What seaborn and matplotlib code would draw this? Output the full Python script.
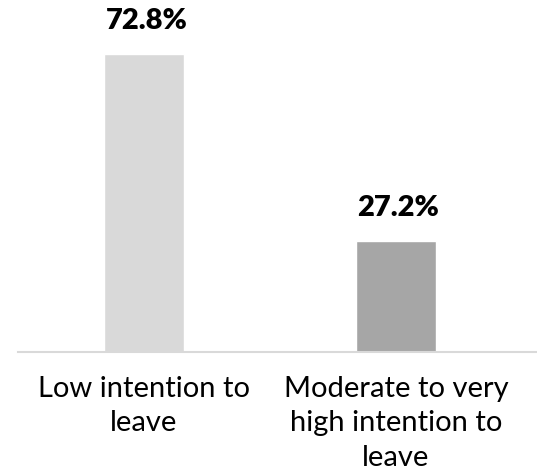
import matplotlib
matplotlib.use('Agg')
import matplotlib.pyplot as plt
import seaborn as sns
import pandas as pd

# Datos del gráfico
categorias = ['Low intention to\nleave', 'Moderate to very\nhigh intention to\nleave']
porcentajes = [72.8, 27.2]
colores = ['#d9d9d9', '#a6a6a6']

sns.set_style('white')
plt.rcParams['font.family'] = ['Lato', 'DejaVu Sans']

df = pd.DataFrame({'categoria': categorias, 'valor': porcentajes})

fig = plt.figure(figsize=(5.37, 4.71), dpi=100)
ax = fig.add_axes([18 / 537, (471 - 352) / 471, 1 - 18 / 537, 352 / 471])

sns.barplot(x='categoria', y='valor', data=df, hue='categoria', palette=colores,
            width=0.315, legend=False, ax=ax)

# Etiquetas de porcentaje encima de las barras
for i, v in enumerate(porcentajes):
    ax.text(i + 0.01, v + 4.8, f'{v}%', ha='center', va='bottom', fontsize=21,
            fontweight='heavy', color='black')

ax.set_xlim(-0.5, 1.56)
ax.set_ylim(0, 86)
ax.set_xlabel('')
ax.set_ylabel('')
ax.set_yticks([])
for lado in ['top', 'right', 'left']:
    ax.spines[lado].set_visible(False)
ax.spines['bottom'].set_color('#d9d9d9')
ax.spines['bottom'].set_linewidth(1.5)
ax.tick_params(axis='x', length=0, pad=17, labelsize=21)
for etiqueta in ax.get_xticklabels():
    etiqueta.set_linespacing(1.42)
    etiqueta.set_color('black')

fig.savefig('out.png', dpi=100)
